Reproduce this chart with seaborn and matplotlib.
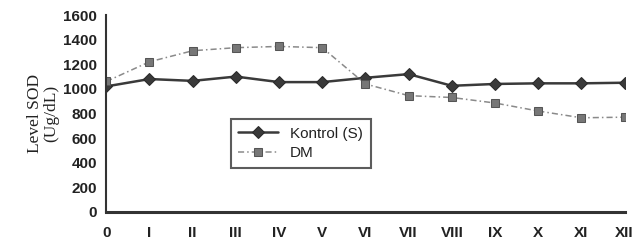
import pandas as pd
import matplotlib.pyplot as plt
import seaborn as sns

# Data
bulan = ['0', 'I', 'II', 'III', 'IV', 'V', 'VI', 'VII', 'VIII', 'IX', 'X', 'XI', 'XII']
kontrol = [1020, 1080, 1065, 1100, 1055, 1055, 1090, 1120, 1025, 1040, 1045, 1045, 1050]
dm = [1060, 1220, 1310, 1335, 1345, 1335, 1040, 945, 930, 885, 820, 765, 770]

df = pd.DataFrame({
    'x': list(range(len(bulan))) * 2,
    'SOD': kontrol + dm,
    'grup': ['Kontrol (S)'] * len(bulan) + ['DM'] * len(bulan),
})

sns.set_style('white')
plt.rcParams['font.family'] = ['Liberation Sans', 'DejaVu Sans']

fig = plt.figure(figsize=(6.4, 2.43), dpi=100)
ax = fig.add_axes([0.166, 0.128, 0.81, 0.81])

k = df[df.grup == 'Kontrol (S)']
d = df[df.grup == 'DM']
sns.lineplot(data=k, x='x', y='SOD', ax=ax, color='#3a3a3a', lw=1.8,
             marker='D', markersize=6.5, markeredgecolor='#2a2a2a', label='Kontrol (S)')
sns.lineplot(data=d, x='x', y='SOD', ax=ax, color='#8a8a8a', lw=1.1,
             linestyle=(0, (4, 2, 1, 2)), marker='s', markersize=5.5,
             markerfacecolor='#777777', markeredgecolor='#555555', label='DM')

ax.set_xlim(0, 12)
ax.set_ylim(0, 1600)
ax.set_xticks(range(len(bulan)))
ax.set_xticklabels(bulan)
ax.set_yticks(range(0, 1601, 200))
ax.tick_params(axis='both', labelsize=11, length=3, width=1.2, direction='out',
               colors='#222222')
for lbl in ax.get_xticklabels() + ax.get_yticklabels():
    lbl.set_fontweight('bold')
ax.tick_params(axis='x', pad=7)
ax.set_xlabel('')
ax.set_ylabel('Level SOD\n(Ug/dL)', fontfamily='Liberation Serif', fontsize=12.5,
              color='#222222', labelpad=3, linespacing=1.0)
sns.despine(ax=ax)
ax.spines['left'].set_linewidth(1.5)
ax.spines['bottom'].set_linewidth(2.2)
ax.spines['left'].set_color('#333333')
ax.spines['bottom'].set_color('#333333')

leg = ax.legend(loc='upper left', bbox_to_anchor=(0.225, 0.51), frameon=True,
                fancybox=False, edgecolor='#333333', fontsize=11,
                handlelength=2.6, borderpad=0.5, labelspacing=0.35)
leg.get_frame().set_linewidth(1.5)
for t in leg.get_texts():
    t.set_color('#222222')

fig.savefig('out.png', dpi=100)
